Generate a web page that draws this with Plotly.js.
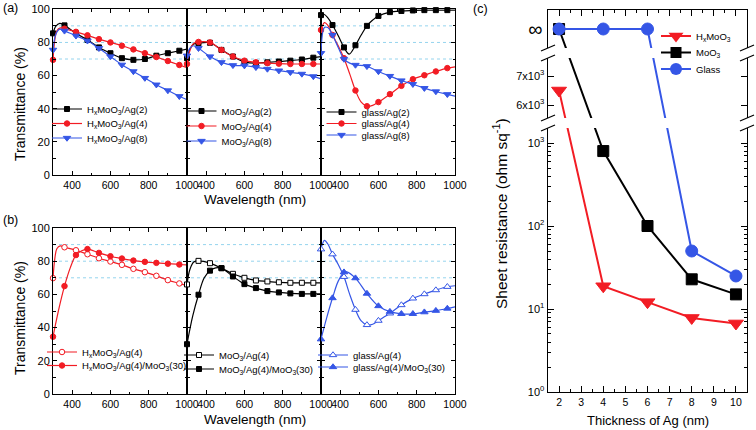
<!DOCTYPE html>
<html><head><meta charset="utf-8">
<script src="https://cdn.plot.ly/plotly-3.0.1.min.js"></script>
<style>body{margin:0;background:#fff}#chart{width:756px;height:430px}</style>
</head><body><div id="chart"></div>
<script>
// ---------- DATA ----------
// (a) left: HxMoO3/Ag(n)
const wl_a1_2 = [300,315,335,360,420,480,540,600,660,720,780,840,900,960,1000];
const T_a1_2  = [85.5,89.8,91.5,90.3,85.5,81.5,77,73.5,70.5,69.5,70,72,73.5,75,76];
const wl_a1_4 = [300,310,320,338,360,420,480,540,600,660,720,780,840,900,960,1000];
const T_a1_4  = [69.5,82,87,88.8,88.3,86.4,84.3,82,80,78,75.8,73.5,71.2,68.8,66.4,64.8];
const wl_a1_8 = [300,315,335,360,420,480,540,600,660,720,780,840,900,960,1000];
const T_a1_8  = [75.5,85,88,87,84,81,76.5,71.5,66.5,62.5,58.5,54.5,51,47.5,45.5];
// (a) middle: MoO3/Ag(n)
const wl_a2 = [300,315,335,360,420,480,540,600,660,720,780,840,900,960,1000];
const T_a2_2 = [70.5,76,79,79.5,79.8,75.5,71.5,68.3,67.5,68,68.5,69,69.7,70.8,71.5];
const T_a2_4 = [67,75,79.5,80.3,80,75.5,71.5,69,68,67.5,67.2,67,67,67,67];
const T_a2_8 = [72,76.5,78,76.5,71.5,68,66.2,66,65,64,63,62,61,59.5,58];
// (a) right: glass/Ag(n)
const wl_a3_2 = [300,315,335,360,390,420,447,480,510,540,570,600,660,720,780,840,900,960,1000];
const T_a3_2  = [96.5,97,95,90.5,84,77,73,78.3,84.5,90,93.5,96,98.3,99,99.3,99.5,99.5,99.5,99.5];
const wl_a3_4 = [300,318,335,360,390,420,450,480,510,540,570,600,660,720,780,840,900,960,1000];
const T_a3_4  = [87.5,92,90.5,84.5,78,70.5,61,51,44,41.5,42,44,48.8,53.8,57.8,60.2,62.5,64.5,65.3];
const wl_a3_8 = [300,318,335,360,390,420,450,480,540,600,660,720,780,840,900,960,1000];
const T_a3_8  = [73.5,89,89,84.5,77,70,67.5,66.4,65.6,62.5,59.7,57,54.8,52.4,50.4,48.7,47.6];
// (b) left: HxMoO3/Ag(4) and +MoO3(30)
const wl_b1_o = [300,310,320,338,360,420,480,540,600,660,720,780,840,900,960,1000];
const T_b1_o  = [69.8,82,87.5,89.2,88.4,86.6,84.2,81.8,79.8,77.8,75.4,73.4,71.2,68.6,66.6,65.2];
const wl_b1_f = [300,330,360,390,420,450,480,540,600,660,720,780,840,900,960,1000];
const T_b1_f  = [34.5,51,65,76,83.7,86.3,87.3,85,83,81.6,80.4,79.6,79,78.5,78,77.8];
// (b) middle: MoO3/Ag(4) and +MoO3(30)
const wl_b2_o = [300,315,335,360,420,480,540,600,660,720,780,840,900,960,1000];
const T_b2_o  = [66,75,79.5,80.2,78.8,75.8,72.4,70,68.4,67.8,67.3,67,67,67,67];
const wl_b2_f = [300,330,360,390,420,450,480,540,600,660,720,780,840,900,960,1000];
const T_b2_f  = [30,47,59.8,70,74.3,76,75.8,70.8,66.2,63.8,62,61.2,60.6,60.3,60.3,60.3];
// (b) right: glass/Ag(4) and +MoO3(30)
const wl_b3_o = [300,318,335,360,390,420,450,480,510,540,570,600,660,720,780,840,900,960,1000];
const T_b3_o  = [87.2,92.5,90.5,84.2,78,70.6,60,50.8,44,41.6,42,44.2,48.6,53.6,57.6,60.2,62.6,64.6,65.2];
const wl_b3_f = [300,330,360,390,420,435,480,540,600,660,720,780,840,900,960,1000];
const T_b3_f  = [33,46,57.8,68,73.4,73.6,69.8,60.5,53,49.6,48.3,48.3,49.3,50.2,51.5,52.5];
// (c) sheet resistance
const cThick = [2,4,6,8,10];
const rs_HxMoO3 = [6500,18.8,12.1,7.8,6.7];
const rs_MoO3   = [Infinity,800,100,22.8,15];
const rs_Glass  = [Infinity,Infinity,Infinity,50,25];

// ---------- STYLE / LAYOUT HELPERS ----------
const W = 756, H = 430;
const F = 'Liberation Sans, Arial, Helvetica, sans-serif';
const RED = '#f21c24', BLACK = '#000000', BLUE = '#3556e6';
const fx = p => p / W, fy = p => 1 - p / H;

const traces = [];
const layout = {
  width: W, height: H, margin: {l:0, r:0, t:0, b:0},
  paper_bgcolor: '#fff', plot_bgcolor: 'rgba(0,0,0,0)',
  font: {family: F, color: '#000'}, hovermode: false,
  shapes: [], annotations: []
};

let legendCount = 0;
function addLegend(textX, yc) {
  legendCount++;
  const id = legendCount === 1 ? 'legend' : 'legend' + legendCount;
  layout[id] = {x: fx(textX - 40), xanchor: 'left', y: fy(yc), yanchor: 'middle',
    bgcolor: 'rgba(0,0,0,0)', borderwidth: 0, itemwidth: 30,
    font: {family: F, size: 9.5, color: '#000'}};
  return id;
}

function xAx(p0, p1, anchor) {
  return {domain: [fx(p0), fx(p1)], anchor, range: [300, 1000], tick0: 0, dtick: 200,
    ticks: 'inside', ticklen: 4, tickwidth: 1, tickcolor: '#000',
    showline: true, linecolor: '#000', linewidth: 1, mirror: 'ticks',
    showgrid: false, zeroline: false, tickfont: {family: F, size: 10.5, color: '#000'},
    minor: {dtick: 100, ticks: 'inside', ticklen: 2.5, tickcolor: '#000'}};
}
function yAx(top, bottom, anchor, labels) {
  return {domain: [fy(bottom), fy(top)], anchor, range: [0, 100], tick0: 0, dtick: 20,
    ticks: 'inside', ticklen: 4, tickwidth: 1, tickcolor: '#000',
    showline: true, linecolor: '#000', linewidth: 1, mirror: 'ticks',
    showgrid: false, zeroline: false, showticklabels: labels,
    tickfont: {family: F, size: 11, color: '#000'},
    minor: {dtick: 10, ticks: 'inside', ticklen: 2.5, tickcolor: '#000'}};
}
// panel x pixel bounds
const PX = [53, 187, 321, 455];
const A_TOP = 9.3, A_BOT = 175, B_TOP = 228, B_BOT = 394;
for (let i = 0; i < 3; i++) {
  const n = i + 1, m = i + 4;
  layout['xaxis' + (n === 1 ? '' : n)] = xAx(PX[i], PX[i+1], 'y' + (n === 1 ? '' : n));
  layout['yaxis' + (n === 1 ? '' : n)] = yAx(A_TOP, A_BOT, 'x' + (n === 1 ? '' : n), i === 0);
  layout['xaxis' + m] = xAx(PX[i], PX[i+1], 'y' + m);
  layout['yaxis' + m] = yAx(B_TOP, B_BOT, 'x' + m, i === 0);
}
// light-blue dotted reference lines at 70/80/90 %
[70, 80, 90].forEach(v => {
  ['y', 'y4'].forEach(ya => layout.shapes.push({type: 'line', xref: 'paper', yref: ya,
    x0: fx(PX[0]), x1: fx(PX[3]), y0: v, y1: v, layer: 'below',
    line: {color: '#95d4ee', width: 1, dash: 'dot'}}));
});

function curve(wl, T, xa, ya, color, symbol, open, size, name, textX, yc) {
  const isM = w => (w - 300) % 60 === 0 && w < 1000;
  const mx = wl.filter(isM), my = T.filter((t, i) => isM(wl[i]));
  const marker = {symbol, size, color: open ? '#fff' : color, line: {color, width: 1}};
  const lid = addLegend(textX, yc);
  traces.push({x: wl, y: T, xaxis: xa, yaxis: ya, mode: 'lines',
    line: {color, width: 1.2, shape: 'spline', smoothing: 1}, showlegend: false});
  traces.push({x: mx, y: my, xaxis: xa, yaxis: ya, mode: 'markers', marker,
    cliponaxis: false, showlegend: false});
  traces.push({x: [null], y: [null], xaxis: xa, yaxis: ya, mode: 'lines+markers',
    line: {color, width: 1.2}, marker, name, legend: lid, showlegend: true});
}
const HX = 'H<sub>x</sub>MoO<sub>3</sub>', MO = 'MoO<sub>3</sub>';
// (a)
curve(wl_a1_2, T_a1_2, 'x', 'y', BLACK, 'square', false, 5, HX + '/Ag(2)', 87, 109);
curve(wl_a1_4, T_a1_4, 'x', 'y', RED, 'circle', false, 5.5, HX + '/Ag(4)', 87, 123.5);
curve(wl_a1_8, T_a1_8, 'x', 'y', BLUE, 'triangle-down', false, 6.5, HX + '/Ag(8)', 87, 138);
curve(wl_a2, T_a2_2, 'x2', 'y2', BLACK, 'square', false, 5, MO + '/Ag(2)', 221.5, 111);
curve(wl_a2, T_a2_4, 'x2', 'y2', RED, 'circle', false, 5.5, MO + '/Ag(4)', 221.5, 126);
curve(wl_a2, T_a2_8, 'x2', 'y2', BLUE, 'triangle-down', false, 6.5, MO + '/Ag(8)', 221.5, 141);
curve(wl_a3_2, T_a3_2, 'x3', 'y3', BLACK, 'square', false, 5, 'glass/Ag(2)', 361.5, 112);
curve(wl_a3_4, T_a3_4, 'x3', 'y3', RED, 'circle', false, 5.5, 'glass/Ag(4)', 361.5, 123.5);
curve(wl_a3_8, T_a3_8, 'x3', 'y3', BLUE, 'triangle-down', false, 6.5, 'glass/Ag(8)', 361.5, 135);
// (b)
curve(wl_b1_o, T_b1_o, 'x4', 'y4', RED, 'circle', true, 5.5, HX + '/Ag(4)', 82, 352);
curve(wl_b1_f, T_b1_f, 'x4', 'y4', RED, 'circle', false, 5.5, HX + '/Ag(4)/' + MO + '(30)', 82, 365.5);
curve(wl_b2_o, T_b2_o, 'x5', 'y5', BLACK, 'square', true, 5, MO + '/Ag(4)', 219, 355);
curve(wl_b2_f, T_b2_f, 'x5', 'y5', BLACK, 'square', false, 5, MO + '/Ag(4)/' + MO + '(30)', 219, 369);
curve(wl_b3_o, T_b3_o, 'x6', 'y6', BLUE, 'triangle-up', true, 6.5, 'glass/Ag(4)', 353, 355);
curve(wl_b3_f, T_b3_f, 'x6', 'y6', BLUE, 'triangle-up', false, 6.5, 'glass/Ag(4)/' + MO + '(30)', 353, 367);

// ---------- PANEL (c): broken y axis in three stacked sections ----------
const CX0 = 548, CX1 = 747;
const SEC = {
  top: {axis: 'y9', dom: [fy(48), fy(10)], range: [-1, 1], log: false},
  mid: {axis: 'y8', dom: [fy(118), fy(58)], range: [5552, 7621], log: false},
  bot: {axis: 'y7', dom: [fy(392), fy(128)], range: [0, 3.181], log: true}
};
const secOf = v => !isFinite(v) ? 'top' : (v >= SEC.mid.range[0] ? 'mid' : 'bot');
function toFrac(v) {
  const s = SEC[secOf(v)];
  const a = !isFinite(v) ? 0 : (s.log ? Math.log10(v) : v);
  return s.dom[0] + (a - s.range[0]) / (s.range[1] - s.range[0]) * (s.dom[1] - s.dom[0]);
}
function fromFrac(f, s) {
  const a = s.range[0] + (f - s.dom[0]) / (s.dom[1] - s.dom[0]) * (s.range[1] - s.range[0]);
  return s.log ? Math.pow(10, a) : a;
}
function cSeries(vals, color, symbol, size, name, yc) {
  ['top', 'mid', 'bot'].forEach(key => {
    const s = SEC[key];
    const yv = vals.map(v => secOf(v) === key ? (isFinite(v) ? v : 0) : fromFrac(toFrac(v), s));
    traces.push({x: cThick, y: yv, xaxis: 'x7', yaxis: s.axis, mode: 'lines+markers',
      line: {color, width: 2}, marker: {symbol, size, color, line: {color, width: 1}},
      showlegend: false});
  });
  const lid = addLegend(696, yc);
  traces.push({x: [null], y: [null], xaxis: 'x7', yaxis: 'y7', mode: 'lines+markers',
    line: {color, width: 2}, marker: {symbol, size, color}, name, legend: lid, showlegend: true});
}
cSeries(rs_HxMoO3, RED, 'triangle-down', 13, HX, 36);
cSeries(rs_MoO3, BLACK, 'square', 11, MO, 52.5);
cSeries(rs_Glass, BLUE, 'circle', 12, 'Glass', 69);
traces.push({x: [null], y: [null], xaxis: 'x8', yaxis: 'y9', showlegend: false, mode: 'markers'});

const cx = {domain: [fx(CX0), fx(CX1)], range: [1.5, 10.5], tick0: 0, dtick: 1,
  ticks: 'inside', ticklen: 6, tickwidth: 1, tickcolor: '#000',
  showline: true, linecolor: '#000', linewidth: 1.4, showgrid: false, zeroline: false,
  tickfont: {family: F, size: 10.5, color: '#000'},
  minor: {dtick: 0.5, ticks: 'inside', ticklen: 3, tickcolor: '#000'}};
layout.xaxis7 = Object.assign({}, cx, {anchor: 'y7'});
layout.xaxis8 = Object.assign({}, cx, {anchor: 'y9', side: 'top', showticklabels: false});
const cyBase = {anchor: 'x7', showline: true, linecolor: '#000', linewidth: 1.4, mirror: 'ticks',
  showgrid: false, zeroline: false, ticks: 'inside', ticklen: 6, tickcolor: '#000',
  tickfont: {family: F, size: 11, color: '#000'}};
const minorLog = [];
[1, 10, 100].forEach(d => { for (let k = 2; k <= 9; k++) minorLog.push(k * d); });
layout.yaxis7 = Object.assign({}, cyBase, {domain: SEC.bot.dom, type: 'log', range: SEC.bot.range,
  tickmode: 'array', tickvals: [1, 10, 100, 1000],
  ticktext: ['10<sup>0</sup>', '10<sup>1</sup>', '10<sup>2</sup>', '10<sup>3</sup>'],
  minor: {tickmode: 'array', tickvals: minorLog, ticks: 'inside', ticklen: 3, tickcolor: '#000'}});
layout.yaxis8 = Object.assign({}, cyBase, {domain: SEC.mid.dom, range: SEC.mid.range,
  tickmode: 'array', tickvals: [6000, 7000], ticktext: ['6x10<sup>3</sup>', '7x10<sup>3</sup>']});
layout.yaxis9 = Object.assign({}, cyBase, {domain: SEC.top.dom, range: SEC.top.range,
  tickmode: 'array', tickvals: [0], ticktext: ['∞'], ticks: '',
  tickfont: {family: F, size: 20, color: '#000'}});
// axis break marks
[[48, 58], [118, 128]].forEach(g => {
  [CX0, CX1].forEach(x => {
    g.forEach(y => layout.shapes.push({type: 'line', xref: 'paper', yref: 'paper',
      x0: fx(x - 7), y0: fy(y + 3), x1: fx(x + 7), y1: fy(y - 3),
      line: {color: '#000', width: 1.2}}));
  });
});

// ---------- TEXT ----------
function ann(text, px, py, size, angle) {
  layout.annotations.push({text, x: fx(px), y: fy(py), xref: 'paper', yref: 'paper',
    xanchor: 'center', yanchor: 'middle', showarrow: false, textangle: angle || 0,
    font: {family: F, size, color: '#000'}});
}
ann('(a)', 10, 8, 12.5);
ann('(b)', 10, 220, 12.5);
ann('(c)', 480, 9, 12.5);
ann('Transmittance (%)', 20, 104, 14, -90);
ann('Transmittance (%)', 20, 318, 14, -90);
ann('Wavelength (nm)', 255, 199, 13.5);
ann('Wavelength (nm)', 255, 419, 13.5);
ann('Sheet resistance (ohm sq<sup>-1</sup>)', 500, 214, 15.5, -90);
ann('Thickness of Ag (nm)', 648, 420, 13);

Plotly.newPlot('chart', traces, layout, {staticPlot: true});
</script></body></html>
